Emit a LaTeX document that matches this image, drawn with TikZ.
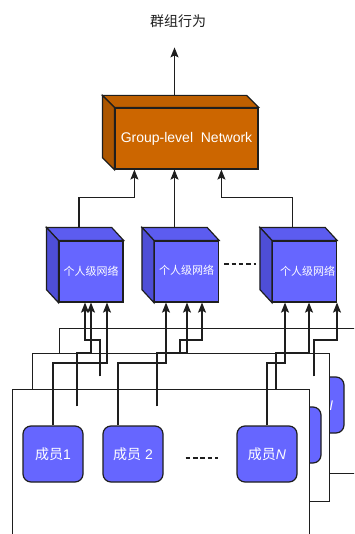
\documentclass[tikz,border=0pt]{standalone}
\usepackage{fontspec}
\setmainfont{Liberation Sans}
\newfontfamily\cjk{Noto Sans CJK SC}
\usetikzlibrary{arrows.meta}
\usetikzlibrary{calc}

\definecolor{linec}{RGB}{30,30,30}
\definecolor{memfill}{RGB}{102,102,255}
\definecolor{nettop}{RGB}{92,92,240}
\definecolor{netside}{RGB}{78,78,215}
\definecolor{grpfront}{RGB}{204,102,0}
\definecolor{grptop}{RGB}{190,95,0}
\definecolor{grpside}{RGB}{172,86,0}

\begin{document}
\begin{tikzpicture}
	[
	x=1pt, y=-1pt,
	> = {Stealth[length=10pt,width=8pt,inset=2pt]},
	line width=1.2pt, color=linec,
	frame/.style = {draw=linec, fill=white, anchor=north west, inner sep=0pt, minimum width=297pt},
	member/.style = {draw=linec, fill=memfill, rounded corners=8pt, minimum width=60pt, minimum height=56pt, inner sep=0pt, text=white, font=\fontsize{14}{16}\selectfont},
	net/.style = {draw=linec, fill=memfill, minimum width=64pt, minimum height=61pt, inner sep=0pt, text=white, font=\cjk\fontsize{11}{13}\selectfont},
	grp/.style = {draw=linec, fill=grpfront, minimum width=143pt, minimum height=61pt, inner sep=0pt, text=white, font=\fontsize{14}{16}\selectfont},
	dashes/.style = {draw=linec, dash pattern=on 4.5pt off 2.9pt}
	]
	\clip (0,0) rectangle (354,534);

	% levels where the wires turn
	\coordinate (lvB) at (0,340);
	\coordinate (lvM) at (0,353);
	\coordinate (lvF) at (0,363);

	% back layer
	\node[frame, minimum width=321pt, minimum height=145pt] (back) at (59,328) {};
	\node[member] (b1) at (100,405) {{\cjk 成员}1};
	\node[member] (b2) at (180,405) {{\cjk 成员} 2};
	\node[member] (bN) at (314,405) {{\cjk 成员}\textit{N}};

	% middle layer
	\node[frame, minimum height=148pt] (mid) at (32,352.5) {};
	\node[member] (m1) at (77,435) {{\cjk 成员}1};
	\node[member] (m2) at (157,435) {{\cjk 成员} 2};
	\node[member] (mN) at (291,435) {{\cjk 成员}\textit{N}};

	% front layer
	\node[frame, minimum height=170pt] (front) at (12,389) {};
	\node[member] (f1) at (53,454) {{\cjk 成员}1};
	\node[member] (f2) at (133,454) {{\cjk 成员} 2};
	\node[member] (fN) at (267,454) {{\cjk 成员}\textit{N}};
	\draw[dashes] ([xshift=22pt,yshift=-4pt]f2.east) -- ([xshift=-18pt,yshift=-4pt]fN.west);

	% individual networks
	\node[net] (net1) at (91,271.5) {个人级网络};
	\node[net] (net2) at (186.5,271.5) {\raisebox{4pt}{个人级网络}};
	\node[net] (net3) at (304.5,271.5) {\hspace*{6pt}\raisebox{-1.5pt}{个人级网络}};
	\foreach \n in {net1,net2,net3}{
		\draw[fill=nettop] (\n.north west) -- ++(-12,-13) -- ($(\n.north east)+(-12,-13)$) -- (\n.north east) -- cycle;
		\draw[fill=netside] (\n.north west) -- ++(-12,-13) -- ($(\n.south west)+(-12,-13)$) -- (\n.south west) -- cycle;
	}
	\draw[dashes] ([xshift=5pt,yshift=7.5pt]net2.east) -- ([xshift=-15.5pt,yshift=7.5pt]net3.west);

	% group network
	\node[grp] (grp) at (186.5,138.5) {Group-level\ \ Network};
	\draw[fill=grptop] (grp.north west) -- ++(-12,-12) -- ($(grp.north east)+(-12,-12)$) -- (grp.north east) -- cycle;
	\draw[fill=grpside] (grp.north west) -- ++(-12,-12) -- ($(grp.south west)+(-12,-12)$) -- (grp.south west) -- cycle;

	\node[font=\cjk\fontsize{14}{16}\selectfont] (out) at (178,21) {群组行为};

	% entry points on the bottoms
	\coordinate (in11) at ($(net1.south)+(-6,0)$);
	\coordinate (in12) at (net1.south);
	\coordinate (in13) at ($(net1.south)+(16,0)$);
	\coordinate (in21) at ($(net2.south)+(-20.5,0)$);
	\coordinate (in22) at ($(net2.south)+(0.5,0)$);
	\coordinate (in23) at ($(net2.south)+(15.5,0)$);
	\coordinate (in31) at ($(net3.south)+(-19.5,0)$);
	\coordinate (in32) at ($(net3.south)+(4.5,0)$);
	\coordinate (in33) at ($(net3.south)+(32.5,0)$);

	% start points that are not plain anchors
	\coordinate (f2w) at ([xshift=-15pt]f2.north);
	\coordinate (b2w) at (b2.north |- mid.north);
	\path ([xshift=-15pt]mN.north) coordinate (mNx);
	\coordinate (mNw) at (mNx |- front.north);

	% members -> individual networks
	\foreach \s/\l/\e in {b1.north/lvB/in11, m1.north/lvM/in12, f1.north/lvF/in13,
		f2w/lvF/in21, m2.north/lvM/in22, b2w/lvB/in23,
		fN.north/lvF/in31, mNw/lvM/in32, bN.north/lvB/in33}
		\draw[->] (\s) |- (\l -| \e) -- (\e);

	% individual networks -> group network
	\coordinate (t1) at ($(net1.north)+(-12,-13)$);
	\coordinate (t2) at ($(net2.north)+(-12,-13)$);
	\coordinate (t3) at ($(net3.north)+(-12,-13)$);
	\draw[->] (t1) -- ++(0,-30) -| ($(grp.south west)+(20,0)$);
	\draw[->] (t2) -- (t2 |- grp.south);
	\draw[->] (t3) -- ++(0,-30) -| ($(grp.south west)+(107,0)$);

	% group behaviour
	\coordinate (gt) at ($(grp.north)+(-12,-12)$);
	\draw[->, shorten >=16pt] (gt) -- (gt |- out.south);
\end{tikzpicture}
\end{document}
